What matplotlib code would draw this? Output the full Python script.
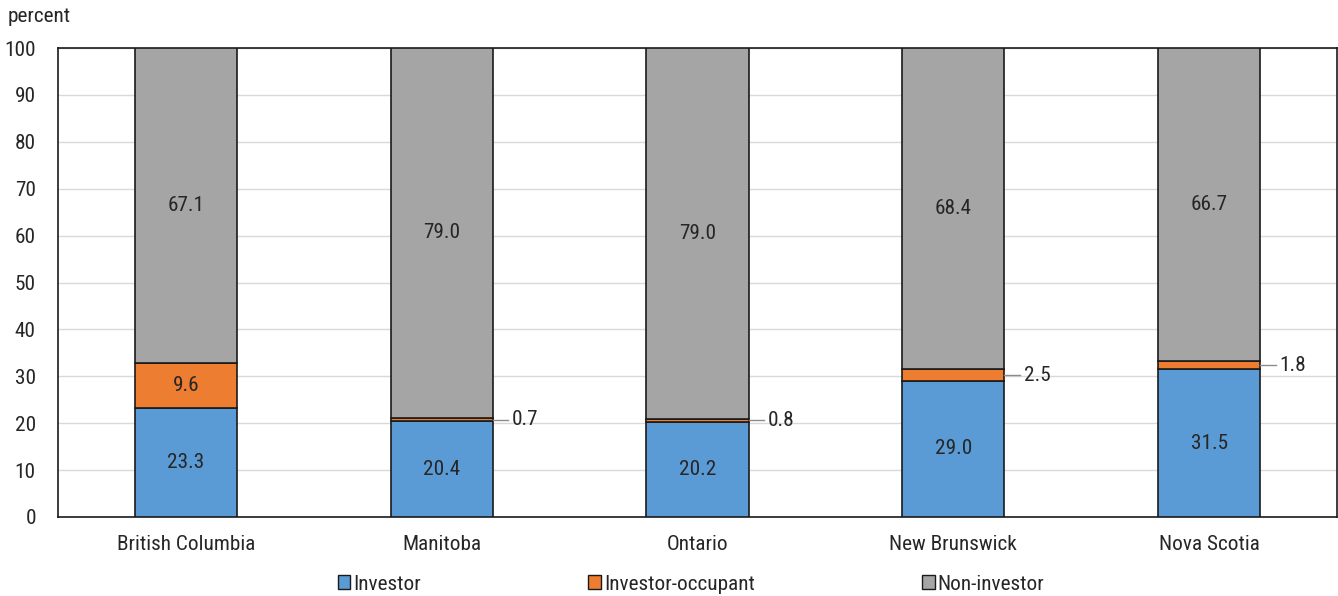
import matplotlib
matplotlib.use("Agg")
import matplotlib.pyplot as plt
from matplotlib.patches import Patch
from matplotlib import font_manager

provinces = ["British Columbia", "Manitoba", "Ontario", "New Brunswick", "Nova Scotia"]
investor = [23.3, 20.4, 20.2, 29.0, 31.5]
investor_occupant = [9.6, 0.7, 0.8, 2.5, 1.8]
non_investor = [67.1, 79.0, 79.0, 68.4, 66.7]
series_names = ["Investor", "Investor-occupant", "Non-investor"]
colors = ["#5b9bd5", "#ed7d31", "#a5a5a5"]

avail = {f.name for f in font_manager.fontManager.ttflist}
fams = [f for f in ["Liberation Sans Narrow", "Roboto Condensed", "Roboto", "DejaVu Sans"] if f in avail]
plt.rcParams["font.family"] = fams
txt = "#262626"
fs = 15.3

fig = plt.figure(figsize=(13.38, 5.96), dpi=100)
ax = fig.add_axes([58 / 1338, 1 - 517 / 596, 1279 / 1338, 469 / 596])

x = range(len(provinces))
w = 0.4
bottoms = [0.0] * len(provinces)
for vals, name, col in zip([investor, investor_occupant, non_investor], series_names, colors):
    ax.bar(x, vals, w, bottom=bottoms, color=col, edgecolor="#1a1a1a", linewidth=1.2, label=name, zorder=3)
    for i, v in enumerate(vals):
        mid = bottoms[i] + v / 2
        if v >= 5:
            ax.text(i, mid, f"{v:.1f}", ha="center", va="center", fontsize=fs, color=txt, zorder=4)
        else:
            ax.plot([i + w / 2, i + w / 2 + 0.06], [mid, mid], color="#8c8c8c", lw=1, zorder=4)
            ax.text(i + w / 2 + 0.075, mid, f"{v:.1f}", ha="left", va="center", fontsize=fs, color=txt, zorder=4)
    bottoms = [b + v for b, v in zip(bottoms, vals)]

ax.set_xlim(-0.5, len(provinces) - 0.5)
ax.set_ylim(0, 100)
ax.set_yticks(range(0, 101, 10))
ax.set_xticks(list(x))
ax.set_xticklabels(provinces)
ax.tick_params(axis="both", length=0, labelsize=fs, colors=txt)
ax.tick_params(axis="x", pad=13)
ax.tick_params(axis="y", pad=16)
ax.yaxis.grid(True, color="#d9d9d9", lw=1, zorder=0)
for s in ax.spines.values():
    s.set_color("#1a1a1a")
    s.set_linewidth(1.2)

fig.text(8 / 1338, 1 - 17 / 596, "percent", fontsize=fs, color=txt, va="center", ha="left")

handles = [Patch(facecolor=c, edgecolor="#1a1a1a", linewidth=1) for c in colors]
fig.legend(handles, series_names, loc="center", bbox_to_anchor=(0.5165, 1 - 584 / 596), ncol=3,
           frameon=False, fontsize=fs, handlelength=0.6, handleheight=0.6, handletextpad=0.15,
           columnspacing=7.85, labelcolor=txt)

fig.savefig("out.png", dpi=100)
